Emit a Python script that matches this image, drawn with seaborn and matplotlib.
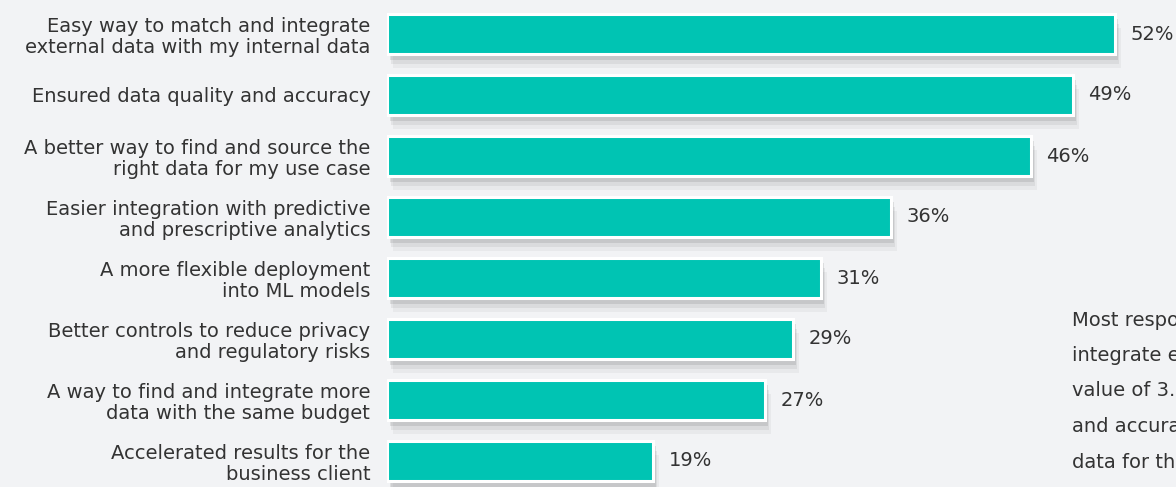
import matplotlib
matplotlib.use("Agg")
import matplotlib.pyplot as plt
import matplotlib.patheffects as pe
import seaborn as sns
import pandas as pd

# datos
categorias = [
    "Easy way to match and integrate\nexternal data with my internal data",
    "Ensured data quality and accuracy",
    "A better way to find and source the\nright data for my use case",
    "Easier integration with predictive\nand prescriptive analytics",
    "A more flexible deployment\ninto ML models",
    "Better controls to reduce privacy\nand regulatory risks",
    "A way to find and integrate more\ndata with the same budget",
    "Accelerated results for the\nbusiness client",
]
porcentajes = [52, 49, 46, 36, 31, 29, 27, 19]
nota = ["Most respondents want an", "integrate external data", "value of 3.5 out of 5", "and accuracy of the", "data for their use case"]

df = pd.DataFrame({"cat": categorias, "pct": porcentajes})

bg = "#F2F3F5"
teal = "#00C4B3"
txt = "#333333"

sns.set_style("white")
plt.rcParams["font.family"] = ["DejaVu Sans"]

fig = plt.figure(figsize=(11.76, 4.87), dpi=100, facecolor=bg)
ax = fig.add_axes([387 / 1176, 0, 1 - 387 / 1176, 1])
ax.set_facecolor(bg)

sns.barplot(data=df, x="pct", y="cat", orient="h", color=teal, saturation=1,
            width=0.66, edgecolor="white", linewidth=2.2, ax=ax)

# sombra suave debajo de las barras
for p in ax.patches:
    p.set_path_effects([
        pe.SimplePatchShadow(offset=(4, -10), shadow_rgbFace="black", alpha=0.04),
        pe.SimplePatchShadow(offset=(3, -7), shadow_rgbFace="black", alpha=0.06),
        pe.SimplePatchShadow(offset=(2, -4), shadow_rgbFace="black", alpha=0.09),
        pe.Normal(),
    ])

for i, v in enumerate(porcentajes):
    ax.text(v + 1.1, i, f"{v}%", va="center", ha="left", fontsize=14, color=txt)

ax.set_xlim(0, (1176 - 387) / 14)
ax.set_ylim((487 - 34) / 61, -34 / 61)
ax.set_xlabel("")
ax.set_ylabel("")
ax.set_xticks([])
ax.tick_params(axis="y", length=0, pad=12, labelsize=14, labelcolor=txt)
for lab in ax.get_yticklabels():
    lab.set_horizontalalignment("right")
    lab.set_multialignment("right")
    lab.set_linespacing(1.15)
sns.despine(ax=ax, left=True, bottom=True)

# texto lateral (cortado por el borde)
for k, linea in enumerate(nota):
    fig.text(1072 / 1176, 1 - (320 + k * 35.5) / 487, linea, fontsize=14,
             color=txt, va="center", ha="left")

fig.savefig("out.png", dpi=100, facecolor=bg)
